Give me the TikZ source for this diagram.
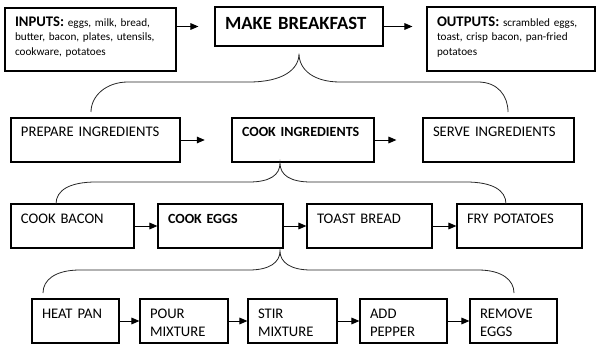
\documentclass[tikz,border=0pt]{standalone}
\usepackage{fontspec}
\setmainfont{Carlito}
\usetikzlibrary{arrows.meta,calc}

\begin{document}
\begin{tikzpicture}[
  x=0.75pt, y=-0.75pt,
  >={Triangle[length=6pt,width=5pt]},
  box/.style={draw, line width=0.85pt, align=left, inner xsep=7.5pt, inner ysep=0pt,
    text height=14.25pt, text depth=18.75pt, font=\fontsize{11}{13.5}\selectfont},
  flow/.style={->, line width=0.75pt},
  brace/.style={line width=0.6pt, black!85}
]
  \path[use as bounding box] (0,0) rectangle (607,360);

  % top level
  \node[box, text width=113.25pt, text depth=33pt, font=\fontsize{8.4}{10.5}\selectfont] (inputs) at (90.5,39.5)
    {{\fontsize{11}{10.5}\selectfont\bfseries INPUTS:} eggs, milk, bread,\\ butter, bacon, plates, utensils,\\ cookware, potatoes};
  \node[box, text width=111pt, text height=17.25pt, text depth=12pt, font=\fontsize{14}{16}\selectfont\bfseries] (make) at (299,26.5)
    {MAKE BREAKFAST};
  \node[box, text width=111pt, text height=15pt, text depth=33pt, font=\fontsize{8.4}{10.5}\selectfont] (outputs) at (511,39)
    {{\fontsize{11}{10.5}\selectfont\bfseries OUTPUTS:} scrambled eggs,\\ toast, crisp bacon, pan-fried\\ potatoes};

  % second level
  \node[box, text width=111.75pt] (prep)    at (95.5,140)  {PREPARE INGREDIENTS};
  \node[box, text width=91.5pt, font=\fontsize{10.5}{13.5}\selectfont\bfseries] (cooking) at (303,140) {COOK~INGREDIENTS};
  \node[box, text width=98.25pt]  (serve)   at (498.5,140) {SERVE INGREDIENTS};

  % third level
  \node[box, text width=77.25pt] (bacon) at (72.5,226)  {COOK BACON};
  \node[box, text width=78.75pt, font=\fontsize{10.5}{13.5}\selectfont\bfseries] (eggs) at (220.5,226) {COOK EGGS};
  \node[box, text width=78.75pt] (toast) at (369.5,226) {TOAST BREAD};
  \node[box, text width=78.75pt] (fry)   at (519.5,226) {FRY POTATOES};

  % fourth level
  \node[box, text width=50.25pt] (heat)   at (75.5,321)  {HEAT PAN};
  \node[box, text width=51pt]    (pour)   at (184,321)   {POUR\\ MIXTURE};
  \node[box, text width=51.75pt] (stir)   at (292.5,321) {STIR\\ MIXTURE};
  \node[box, text width=50.25pt] (pepper) at (403.5,321) {ADD\\ PEPPER};
  \node[box, text width=50.25pt] (remove) at (513.5,321) {REMOVE\\ EGGS};

  % flow arrows
  \draw[flow, shorten >=12pt]   (inputs.east |- make.west) -- (make.west);
  \draw[flow, shorten >=10.5pt] (make.east) -- (outputs.west |- make.east);
  \draw[flow, shorten >=20pt]   (prep.east) -- (cooking.west);
  \draw[flow, shorten >=19.5pt] (cooking.east) -- (serve.west);
  \foreach \a/\b in {bacon/eggs, eggs/toast, toast/fry, heat/pour, pour/stir, stir/pepper, pepper/remove}
    \draw[flow] (\a.east) -- (\b.west);

  % braces
  \coordinate (t1) at ($(make.south)+(0,7)$);
  \coordinate (b1l) at (91,112);
  \coordinate (b1r) at (508,112);
  \draw[brace] (b1l) .. controls (91,96) and (106,82) .. (128,82) -- (249,82)
    .. controls (282,82) and (299,70) .. (t1)
    .. controls (299,70) and (314,82) .. (340,82) -- (478,82)
    .. controls (498,82) and (508,96) .. (b1r);

  \coordinate (t2) at (280,163);
  \coordinate (b2l) at (56,204);
  \coordinate (b2r) at (506,204);
  \draw[brace] (b2l) .. controls (56,190) and (70,182) .. (96,182) -- (249,182)
    .. controls (270,182) and (280,175) .. (t2)
    .. controls (280,175) and (290,182) .. (311,182) -- (466,182)
    .. controls (492,182) and (506,190) .. (b2r);

  \coordinate (t3) at (280,251);
  \coordinate (b3l) at (43,293);
  \coordinate (b3r) at (514,293);
  \draw[brace] (b3l) .. controls (43,280) and (55,270) .. (80,270) -- (249,270)
    .. controls (270,270) and (280,262) .. (t3)
    .. controls (280,262) and (290,270) .. (311,270) -- (478,270)
    .. controls (502,270) and (514,280) .. (b3r);
\end{tikzpicture}
\end{document}
